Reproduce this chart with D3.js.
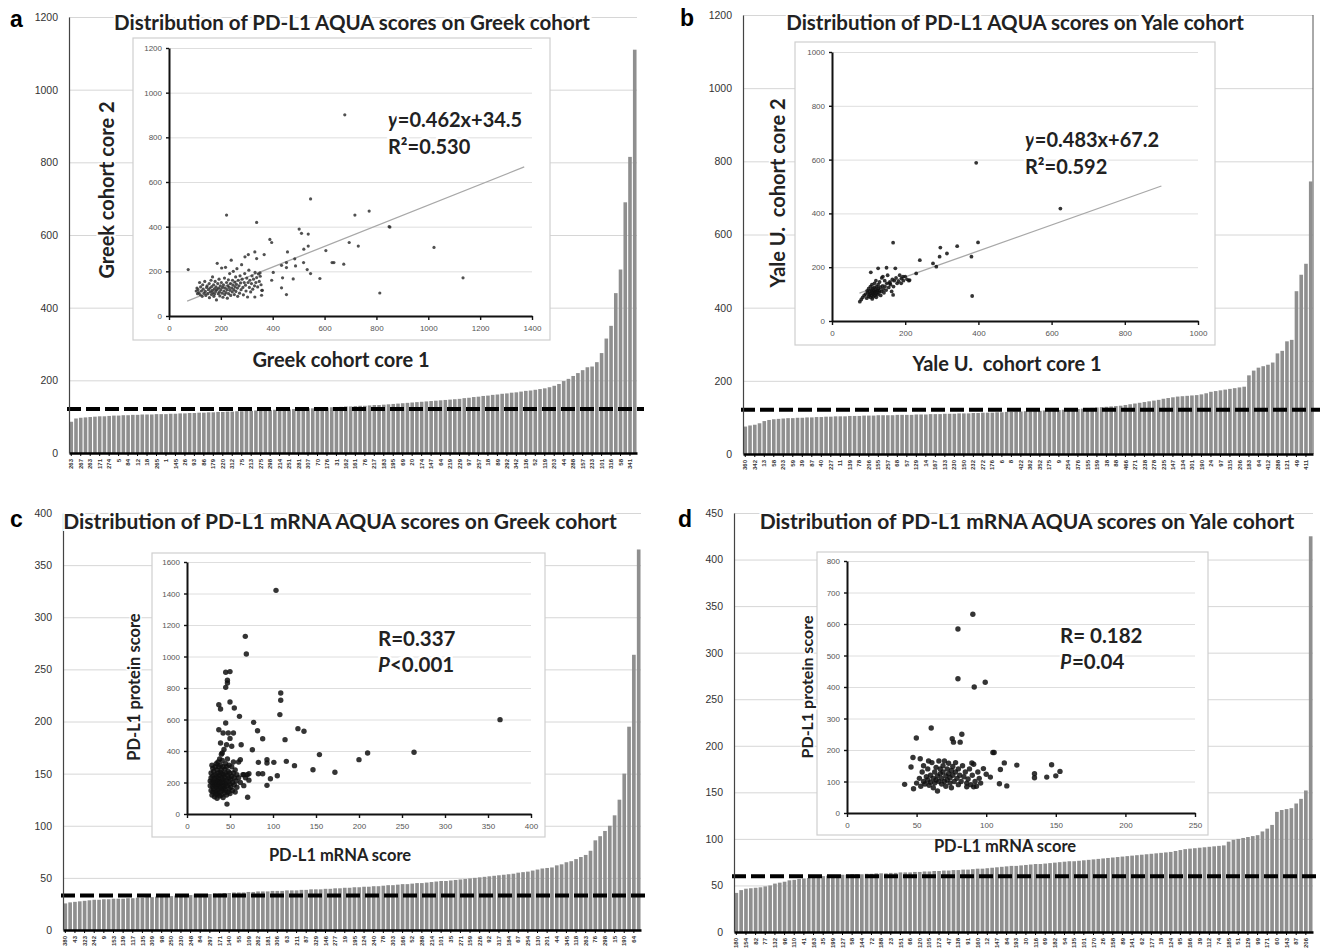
<!DOCTYPE html>
<html>
<head>
<meta charset="utf-8">
<script src="https://d3js.org/d3.v7.min.js"></script>
<style>
    body { margin: 0; background: #fff; }
    svg { display: block; font-family: Lato, "Open Sans", sans-serif; }
    text { white-space: pre; }
    .grid line { stroke: #d6d6d6; }
    .grid path { display: none; }
    .igrid line { stroke: #dedede; }
    .igrid path { display: none; }
</style>
</head>
<body>
<script>
//wrap everything in an anonymous function so nothing is global
(function () {

    //sorted AQUA scores shown as bars (one array per panel)
    var barsA = [86, 95, 97, 98, 99, 100, 101, 101, 102, 103,
        103, 104, 104, 105, 105, 106, 106, 106, 107, 107,
        107, 108, 108, 109, 109, 110, 110, 111, 111, 112,
        112, 113, 113, 114, 114, 115, 115, 116, 116, 117,
        117, 118, 118, 119, 119, 120, 120, 121, 121, 122,
        123, 123, 124, 124, 125, 126, 126, 127, 128, 128,
        129, 130, 130, 131, 132, 132, 133, 134, 135, 136,
        137, 138, 139, 140, 141, 142, 143, 144, 145, 146,
        147, 148, 149, 151, 152, 154, 155, 157, 158, 160,
        161, 163, 164, 166, 167, 169, 171, 172, 174, 176,
        178, 181, 185, 190, 198, 204, 212, 220, 228, 236,
        238, 250, 275, 315, 350, 440, 505, 690, 815, 1110];
    var barsB = [75, 78, 80, 84, 90, 93, 95, 96, 97, 98,
        98, 99, 99, 100, 100, 101, 101, 102, 102, 103,
        103, 103, 104, 104, 104, 105, 105, 105, 106, 106,
        106, 106, 107, 107, 107, 107, 108, 108, 108, 109,
        109, 109, 110, 110, 110, 111, 111, 111, 112, 112,
        113, 113, 113, 114, 114, 115, 115, 116, 116, 117,
        117, 118, 118, 119, 119, 120, 120, 121, 122, 122,
        123, 124, 125, 126, 127, 128, 129, 130, 131, 132,
        134, 136, 138, 140, 142, 144, 146, 148, 151, 153,
        155, 157, 158, 159, 160, 161, 163, 166, 170, 172,
        174, 176, 178, 180, 182, 184, 215, 228, 236, 240,
        244, 250, 275, 282, 308, 312, 445, 490, 520, 745];
    var barsC = [25.5, 26.5, 27, 27.5, 28, 28.5, 29, 29, 29.5, 29.5,
        30, 30, 30, 30.5, 30.5, 31, 31, 31.5, 31.5, 32,
        32, 32.5, 32.5, 33, 33, 33.5, 33.5, 34, 34, 34.5,
        34.5, 35, 35, 35.5, 35.5, 36, 36, 36, 36.5, 36.5,
        37, 37, 37, 37.5, 37.5, 37.5, 38, 38, 38, 38.5,
        38.5, 39, 39, 39, 39.5, 39.5, 40, 40, 40.5, 40.5,
        41, 41, 41.5, 41.5, 42, 42, 42.5, 43, 43, 43.5,
        44, 44, 44.5, 45, 45, 45.5, 46, 46.5, 47, 47,
        47.5, 48, 48.5, 49, 49.5, 50, 50.5, 51, 51.5, 52,
        52.5, 53, 53.5, 54, 55, 55.5, 56, 57, 58, 59,
        59.5, 60, 62, 63, 65, 66, 68, 70, 72, 76,
        86, 90, 95, 100, 110, 125, 150, 195, 264, 365];
    var barsD = [42, 45, 46.5, 47, 47.5, 48, 49, 50, 52, 53,
        54, 55.5, 56, 57, 57.5, 58, 58.5, 59, 60, 60.5,
        61, 61, 61.5, 61.5, 62, 62, 62, 62.5, 62.5, 63,
        63, 63, 63.5, 63.5, 64, 64, 64, 64.5, 64.5, 65,
        65, 65.5, 65.5, 66, 66, 66.5, 66.5, 67, 67, 67.5,
        68, 68, 68.5, 69, 69.5, 70, 70.5, 71, 71, 71.5,
        72, 72.5, 73, 73, 73.5, 74, 74.5, 75, 75.5, 76,
        76, 76.5, 77, 77.5, 78, 78.5, 79, 79.5, 80, 80.5,
        81, 81.5, 82, 82.5, 83, 83.5, 84, 84.5, 85, 85.5,
        86, 87, 88, 89, 89.5, 90, 90.5, 91, 91.5, 92,
        92.5, 93, 97, 99, 100, 101, 102, 103, 104, 108,
        111, 115, 129, 131, 132, 133, 138, 143, 152, 425];

    //case ids printed under every second bar
    var labelsA = ["263", "267", "263", "171", "274", "5", "84", "12", "18", "265",
        "1", "145", "26", "93", "86", "179", "220", "312", "75", "213",
        "275", "298", "214", "251", "281", "307", "70", "176", "31", "162",
        "161", "76", "217", "183", "195", "69", "20", "174", "147", "64",
        "219", "229", "97", "257", "18", "89", "292", "342", "136", "52",
        "119", "203", "44", "288", "157", "233", "101", "316", "58", "341"];
    var labelsB = ["360", "342", "13", "58", "203", "59", "39", "87", "40", "227",
        "11", "139", "78", "206", "155", "257", "68", "57", "129", "14",
        "167", "133", "230", "150", "232", "272", "176", "6", "8", "422",
        "362", "352", "175", "9", "254", "376", "155", "159", "38", "88",
        "466", "271", "238", "278", "235", "147", "134", "301", "190", "24",
        "97", "315", "206", "183", "64", "412", "288", "121", "49", "411"];
    var labelsC = ["380", "43", "323", "242", "9", "153", "139", "117", "135", "309",
        "98", "250", "230", "248", "84", "297", "171", "140", "55", "109",
        "262", "181", "306", "63", "211", "87", "329", "146", "277", "19",
        "195", "124", "240", "78", "303", "166", "52", "288", "214", "101",
        "35", "271", "159", "226", "92", "317", "184", "67", "254", "130",
        "201", "44", "345", "118", "263", "76", "298", "15", "190", "64"];
    var labelsD = ["180", "154", "82", "77", "132", "96", "110", "41", "163", "35",
        "199", "127", "58", "144", "72", "188", "23", "151", "66", "120",
        "105", "173", "47", "138", "91", "160", "12", "147", "84", "193",
        "30", "116", "69", "182", "54", "135", "101", "170", "26", "158",
        "89", "141", "62", "177", "18", "124", "95", "166", "39", "112",
        "74", "185", "51", "129", "99", "171", "60", "143", "87", "206"];

    //cut-off values drawn as dashed lines
    var cutA = 121, cutB = 121, cutC = 33, cutD = 60;

    //inset scatter points [x, y]
    var pointsA = [[105, 112], [108, 125], [110, 100], [112, 118], [115, 105], [118, 150], [120, 96], [122, 130],
        [125, 112], [128, 88], [130, 140], [132, 120], [135, 102], [138, 155], [140, 110], [142, 92], [145, 128],
        [147, 135], [150, 100], [152, 118], [155, 145], [156, 82], [158, 125], [160, 108], [162, 160], [164, 96],
        [165, 132], [167, 115], [168, 175], [170, 104], [172, 140], [173, 88], [175, 122], [176, 98], [178, 155],
        [180, 110], [181, 130], [183, 72], [185, 118], [186, 236], [188, 145], [190, 100], [191, 125], [193, 165],
        [195, 108], [196, 90], [198, 135], [200, 118], [202, 150], [203, 215], [205, 102], [207, 128], [208, 84],
        [210, 140], [212, 112], [214, 170], [215, 96], [217, 125], [218, 218], [220, 105], [222, 150], [224, 118],
        [225, 80], [227, 135], [229, 162], [230, 100], [232, 128], [234, 190], [235, 115], [237, 145], [238, 92],
        [240, 250], [242, 125], [244, 108], [245, 160], [247, 138], [248, 200], [250, 118], [252, 96], [254, 152],
        [255, 130], [257, 175], [258, 110], [260, 142], [262, 212], [264, 125], [265, 88], [267, 160], [270, 135],
        [272, 102], [274, 180], [276, 148], [278, 118], [280, 230], [282, 165], [285, 128], [287, 95], [290, 150],
        [292, 190], [295, 138], [297, 112], [300, 170], [303, 85], [305, 150], [308, 205], [310, 128], [312, 160],
        [315, 108], [318, 145], [320, 180], [323, 120], [326, 165], [330, 135], [332, 195], [335, 150], [338, 172],
        [342, 130], [345, 188], [348, 155], [352, 178], [355, 140], [358, 115],
        [74, 208], [222, 452], [338, 419], [546, 524], [678, 901], [717, 452], [772, 470], [852, 398], [849, 400],
        [1022, 307], [1134, 171], [813, 103], [502, 389], [511, 370], [537, 367], [537, 313], [520, 299], [485, 256],
        [457, 287], [389, 343], [396, 329], [367, 275], [331, 287], [306, 275], [293, 265], [338, 257], [519, 239],
        [453, 239], [434, 227], [488, 224], [453, 217], [533, 208], [546, 190], [479, 166], [582, 168], [438, 171],
        [434, 126], [453, 96], [396, 160], [402, 195], [605, 293], [629, 239], [636, 239], [674, 232], [695, 329],
        [730, 313], [357, 93], [360, 115], [331, 85], [351, 193]];
    var pointsB = [[84, 88], [88, 95], [92, 100], [95, 85], [96, 112], [98, 105], [100, 92], [100, 120], [102, 98],
        [103, 110], [105, 128], [105, 88], [106, 102], [107, 115], [108, 95], [109, 135], [110, 108], [110, 82],
        [111, 120], [112, 100], [113, 90], [114, 112], [115, 125], [115, 105], [116, 140], [117, 95], [118, 110],
        [119, 118], [120, 100], [120, 150], [121, 88], [122, 128], [123, 108], [124, 115], [125, 98], [126, 135],
        [127, 120], [128, 105], [130, 145], [130, 112], [132, 125], [133, 95], [135, 110], [136, 160], [138, 130],
        [140, 118], [142, 105], [144, 150], [145, 128], [148, 115], [150, 140], [152, 170], [155, 125], [158, 145],
        [160, 135], [163, 110], [165, 155], [168, 128], [170, 150], [175, 160], [178, 140], [182, 148], [185, 170],
        [190, 158], [195, 150], [200, 165], [205, 155], [210, 150],
        [394, 588], [624, 418], [167, 291], [399, 292], [342, 278], [296, 273], [314, 251], [294, 239], [240, 226],
        [276, 214], [285, 202], [381, 239], [230, 177], [383, 93], [212, 152], [194, 165], [173, 196], [149, 198],
        [126, 196], [106, 181], [167, 97], [189, 140], [158, 140], [139, 165], [76, 72], [80, 80]];
    var pointsC = [[27, 210], [27, 180], [28, 230], [28, 150], [28, 260], [29, 200], [29, 120], [29, 310], [30, 175],
        [30, 240], [30, 140], [30, 290], [31, 205], [31, 160], [31, 270], [32, 110], [32, 225], [32, 185], [33, 300],
        [33, 140], [33, 250], [33, 195], [34, 170], [34, 320], [34, 215], [34, 125], [35, 240], [35, 180], [35, 150],
        [35, 280], [35, 100], [36, 210], [36, 330], [36, 130], [36, 260], [37, 190], [37, 160], [37, 225], [37, 300],
        [38, 115], [38, 245], [38, 175], [38, 350], [38, 205], [39, 140], [39, 265], [39, 195], [39, 310], [40, 230],
        [40, 165], [40, 120], [40, 280], [40, 380], [41, 200], [41, 150], [41, 255], [41, 340], [42, 180], [42, 220],
        [42, 105], [42, 300], [43, 250], [43, 160], [43, 410], [43, 200], [44, 135], [44, 285], [44, 230], [44, 175],
        [45, 320], [45, 190], [45, 150], [45, 260], [46, 215], [46, 120], [46, 440], [46, 300], [47, 180], [47, 245],
        [47, 350], [48, 140], [48, 270], [48, 205], [49, 160], [49, 310], [49, 230], [50, 190], [50, 480], [50, 260],
        [50, 130], [51, 220], [51, 170], [52, 300], [52, 240], [53, 150], [53, 200], [54, 330], [54, 260], [55, 185],
        [55, 230], [56, 140], [56, 280], [57, 210], [58, 250], [58, 170], [60, 230], [60, 330], [62, 200], [63, 440],
        [65, 250], [66, 180], [68, 230], [70, 250], [72, 215],
        [103.5, 1420], [67.8, 1128], [69, 1016], [45, 900], [50, 904], [47, 849], [47, 832], [45, 804], [37, 694],
        [39, 667], [50, 711], [55, 673], [61, 620], [45, 578], [109, 768], [109, 722], [108, 631], [77.5, 582],
        [82, 529], [88, 478], [129, 542], [136, 525], [114, 472], [364, 599], [264, 392], [210, 387], [200, 345],
        [154, 377], [172, 265], [146.5, 281], [125, 307], [115.5, 334], [101, 328], [93, 345], [93, 324], [83, 328],
        [76, 408], [105, 243], [97, 224], [93, 182], [83, 256], [88, 256], [70.5, 106], [46.5, 63], [66, 250],
        [72, 256], [62, 345], [52, 430], [54, 514], [48, 514], [42, 514], [39, 451], [41, 387], [37, 535]];
    var pointsD = [[50, 95], [52, 110], [53, 85], [54, 130], [55, 100], [55, 150], [56, 92], [57, 115], [58, 105],
        [58, 140], [59, 88], [60, 120], [60, 98], [61, 160], [62, 110], [62, 80], [63, 130], [63, 95], [64, 145],
        [64, 105], [65, 118], [65, 70], [66, 165], [66, 100], [67, 125], [67, 140], [68, 92], [68, 110], [69, 150],
        [69, 130], [70, 100], [70, 165], [71, 118], [71, 85], [72, 140], [72, 105], [73, 125], [73, 158], [74, 95],
        [74, 112], [75, 135], [75, 80], [76, 148], [76, 120], [77, 100], [78, 130], [78, 160], [79, 110], [80, 90],
        [80, 140], [81, 120], [82, 100], [83, 150], [84, 115], [85, 130], [86, 95], [87, 108], [88, 140], [89, 90],
        [90, 120], [91, 155], [92, 100], [93, 85], [94, 130], [95, 110], [96, 95],
        [90.4, 631], [79.7, 584], [79.7, 426], [91.4, 400], [99.3, 415], [60.5, 270], [49.8, 238], [75.6, 236],
        [76.5, 225], [82.5, 250], [81.3, 225], [104.8, 192], [105.7, 192], [41.4, 91], [47.8, 77], [47.4, 176],
        [46, 146], [52.6, 172], [58.6, 165], [109.5, 93], [114.8, 86], [113, 159], [122, 152], [110.2, 138],
        [98, 141], [89.7, 159], [134.7, 125], [134.7, 112], [143.5, 114], [147, 153], [150, 118], [153, 132],
        [100, 123], [103, 114], [86, 83], [91, 83]];

    //regression lines for the two core-vs-core insets [slope, intercept, xStart, xEnd]
    var fitA = [0.462, 34.5, 70, 1370];
    var fitB = [0.483, 67.2, 75, 900];

    //plain integer tick labels, no thousands separator
    var fmt = d3.format("d");

    //begin script
    drawFigure();

    function drawFigure() {
        var svg = d3.select("body")
            .append("svg")
            .attr("width", 1324)
            .attr("height", 952);

        //panel a
        drawPanel(svg, {
            letter: "a", letterX: 10, letterY: 27,
            title: "Distribution of PD-L1 AQUA scores on Greek cohort", titleX: 352, titleY: 30, titleSize: 20.5,
            left: 69, right: 637, top: 17, bottom: 453, yMax: 1200, yStep: 200,
            bars: barsA, labels: labelsA, cut: cutA, frame: false
        });
        drawInset(svg, {
            box: [133, 38, 417, 302], x0: 169, x1: 532, y0: 316, y1: 48,
            xMax: 1400, xStep: 200, yMax: 1200, yStep: 200,
            points: pointsA, r: 1.6, color: "#333",
            fit: fitA,
            xTitle: "Greek cohort core 1", xTitleX: 341, xTitleY: 367, xTitleSize: 20,
            yTitle: "Greek cohort core 2", yTitleX: 114, yTitleY: 190, yTitleSize: 20,
            stats: [["y", "=0.462x+34.5"], ["", "R\u00b2=0.530"]], statX: 388, statY: 127, statSize: 20, statGap: 27
        });

        //panel b
        drawPanel(svg, {
            letter: "b", letterX: 680, letterY: 26,
            title: "Distribution of PD-L1 AQUA scores on Yale cohort", titleX: 1015, titleY: 30, titleSize: 20.5,
            left: 743, right: 1313, top: 15, bottom: 454, yMax: 1200, yStep: 200,
            bars: barsB, labels: labelsB, cut: cutB, frame: true
        });
        drawInset(svg, {
            box: [795, 42, 420, 303], x0: 832, x1: 1198, y0: 321, y1: 52,
            xMax: 1000, xStep: 200, yMax: 1000, yStep: 200,
            points: pointsB, r: 1.9, color: "#111",
            fit: fitB,
            xTitle: "Yale U.  cohort core 1", xTitleX: 1007, xTitleY: 371, xTitleSize: 20,
            yTitle: "Yale U.  cohort core 2", yTitleX: 785, yTitleY: 193, yTitleSize: 20,
            stats: [["y", "=0.483x+67.2"], ["", "R\u00b2=0.592"]], statX: 1025, statY: 147, statSize: 20, statGap: 27
        });

        //panel c
        drawPanel(svg, {
            letter: "c", letterX: 10, letterY: 527,
            title: "Distribution of PD-L1 mRNA AQUA scores on Greek cohort", titleX: 340, titleY: 529, titleSize: 21,
            left: 63, right: 641, top: 513, bottom: 930, yMax: 400, yStep: 50,
            bars: barsC, labels: labelsC, cut: cutC, frame: false
        });
        drawInset(svg, {
            box: [152, 553, 393, 284], x0: 187, x1: 531, y0: 814, y1: 562,
            xMax: 400, xStep: 50, yMax: 1600, yStep: 200,
            points: pointsC, r: 2.7, color: "#111",
            fit: null,
            xTitle: "PD-L1 mRNA score", xTitleX: 340, xTitleY: 861, xTitleSize: 16.5,
            yTitle: "PD-L1 protein score", yTitleX: 140, yTitleY: 687, yTitleSize: 16.5,
            stats: [["", "R=0.337"], ["P", "<0.001"]], statX: 378, statY: 646, statSize: 20.5, statGap: 26
        });

        //panel d
        drawPanel(svg, {
            letter: "d", letterX: 678, letterY: 527,
            title: "Distribution of PD-L1 mRNA AQUA scores on Yale cohort", titleX: 1027, titleY: 529, titleSize: 21,
            left: 734, right: 1313, top: 513, bottom: 932, yMax: 450, yStep: 50,
            bars: barsD, labels: labelsD, cut: cutD, frame: false
        });
        drawInset(svg, {
            box: [817, 552, 391, 283], x0: 847, x1: 1195, y0: 813, y1: 561,
            xMax: 250, xStep: 50, yMax: 800, yStep: 100,
            points: pointsD, r: 2.7, color: "#111",
            fit: null,
            xTitle: "PD-L1 mRNA score", xTitleX: 1005, xTitleY: 852, xTitleSize: 16.5,
            yTitle: "PD-L1 protein score", yTitleX: 813, yTitleY: 687, yTitleSize: 16,
            stats: [["", "R= 0.182"], ["P", "=0.04"]], statX: 1060, statY: 643, statSize: 20.5, statGap: 26
        });
    }

    //sorted bar chart with cut-off line
    function drawPanel(svg, p) {
        var width = p.right - p.left;

        var y = d3.scaleLinear()
            .domain([0, p.yMax])
            .range([p.bottom, p.top]);

        var x = d3.scaleBand()
            .domain(d3.range(p.bars.length))
            .range([p.left, p.right])
            .paddingInner(0.24)
            .paddingOuter(0.1);

        var yTicks = d3.range(0, p.yMax + p.yStep / 2, p.yStep);

        //horizontal gridlines
        svg.append("g")
            .attr("class", "grid")
            .attr("transform", "translate(" + p.left + ",0)")
            .call(d3.axisLeft(y).tickValues(yTicks.slice(1)).tickSize(-width).tickFormat(""));

        //right frame line
        if (p.frame) {
            svg.append("line")
                .attr("x1", p.right).attr("x2", p.right)
                .attr("y1", p.top).attr("y2", p.bottom)
                .attr("stroke", "#555")
                .attr("stroke-width", 1);
        }

        //bars
        svg.append("g")
            .selectAll(".bar")
            .data(p.bars)
            .enter()
            .append("rect")
            .attr("class", "bar")
            .attr("x", function (d, i) { return x(i); })
            .attr("width", x.bandwidth())
            .attr("y", function (d) { return y(d); })
            .attr("height", function (d) { return y(0) - y(d); })
            .attr("fill", "#8f8f8f");

        //cut-off dashed line
        svg.append("line")
            .attr("x1", p.left - 2)
            .attr("x2", p.right + 7)
            .attr("y1", y(p.cut))
            .attr("y2", y(p.cut))
            .attr("stroke", "#000")
            .attr("stroke-width", 4)
            .attr("stroke-dasharray", "14,5");

        //baseline with rotated case ids
        var xAxis = svg.append("g")
            .attr("transform", "translate(0," + p.bottom + ")")
            .call(d3.axisBottom(x)
                .tickValues(x.domain().filter(function (i) { return i % 2 === 0; }))
                .tickFormat(function (i) { return p.labels[i / 2]; })
                .tickSize(3)
                .tickSizeOuter(0));
        xAxis.select(".domain").attr("stroke", "#000").attr("stroke-width", 2.5);
        xAxis.selectAll(".tick line").attr("stroke", "#000");
        xAxis.selectAll(".tick text")
            .attr("y", 0)
            .attr("x", -6)
            .attr("dy", "0.35em")
            .attr("transform", "rotate(-90)")
            .style("text-anchor", "end")
            .style("font-size", "6px")
            .style("font-weight", "bold")
            .attr("fill", "#333");

        //vertical axis
        var yAxis = svg.append("g")
            .attr("transform", "translate(" + p.left + ",0)")
            .call(d3.axisLeft(y).tickValues(yTicks).tickFormat(fmt).tickSize(0).tickPadding(11));
        yAxis.select(".domain").attr("stroke", "#444").attr("stroke-width", 1.2);
        yAxis.selectAll("text")
            .style("font-size", "10.5px")
            .attr("fill", "#333");

        //panel letter
        svg.append("text")
            .attr("x", p.letterX)
            .attr("y", p.letterY)
            .style("font-family", "'Liberation Sans', Arial, sans-serif")
            .style("font-weight", "bold")
            .style("font-size", "23px")
            .text(p.letter);

        //panel title
        svg.append("text")
            .attr("x", p.titleX)
            .attr("y", p.titleY)
            .attr("text-anchor", "middle")
            .style("font-weight", "bold")
            .style("font-size", p.titleSize + "px")
            .attr("fill", "#222")
            .attr("stroke", "#fff")
            .attr("stroke-width", 4)
            .style("paint-order", "stroke")
            .text(p.title);
    }

    //inset scatter plot
    function drawInset(svg, s) {
        //white box
        svg.append("rect")
            .attr("x", s.box[0])
            .attr("y", s.box[1])
            .attr("width", s.box[2])
            .attr("height", s.box[3])
            .attr("fill", "#fff")
            .attr("stroke", "#cfcfcf")
            .attr("stroke-width", 1.2);

        var ix = d3.scaleLinear().domain([0, s.xMax]).range([s.x0, s.x1]);
        var iy = d3.scaleLinear().domain([0, s.yMax]).range([s.y0, s.y1]);
        var xTicks = d3.range(0, s.xMax + s.xStep / 2, s.xStep);
        var yTicks = d3.range(0, s.yMax + s.yStep / 2, s.yStep);

        //gridlines
        svg.append("g")
            .attr("class", "igrid")
            .attr("transform", "translate(" + s.x0 + ",0)")
            .call(d3.axisLeft(iy).tickValues(yTicks.slice(1)).tickSize(-(s.x1 - s.x0)).tickFormat(""));

        //statistics text (white halo cuts the gridlines like the original)
        s.stats.forEach(function (row, k) {
            var t = svg.append("text")
                .attr("x", s.statX)
                .attr("y", s.statY + k * s.statGap)
                .style("font-weight", "bold")
                .style("font-size", s.statSize + "px")
                .attr("fill", "#222")
                .attr("stroke", "#fff")
                .attr("stroke-width", 5)
                .style("paint-order", "stroke");
            if (row[0]) {
                t.append("tspan").style("font-style", "italic").text(row[0]);
            }
            t.append("tspan").text(row[1]);
        });

        //regression line
        if (s.fit) {
            svg.append("line")
                .attr("x1", ix(s.fit[2]))
                .attr("y1", iy(s.fit[0] * s.fit[2] + s.fit[1]))
                .attr("x2", ix(s.fit[3]))
                .attr("y2", iy(s.fit[0] * s.fit[3] + s.fit[1]))
                .attr("stroke", "#a8a8a8")
                .attr("stroke-width", 1.3);
        }

        //points
        svg.append("g")
            .selectAll("circle")
            .data(s.points)
            .enter()
            .append("circle")
            .attr("cx", function (d) { return ix(d[0]); })
            .attr("cy", function (d) { return iy(d[1]); })
            .attr("r", s.r)
            .attr("fill", s.color)
            .attr("fill-opacity", 0.85);

        //axes
        var xAxis = svg.append("g")
            .attr("transform", "translate(0," + s.y0 + ")")
            .call(d3.axisBottom(ix).tickValues(xTicks).tickFormat(fmt).tickSize(4).tickSizeOuter(0).tickPadding(5));
        var yAxis = svg.append("g")
            .attr("transform", "translate(" + s.x0 + ",0)")
            .call(d3.axisLeft(iy).tickValues(yTicks).tickFormat(fmt).tickSize(3).tickSizeOuter(0).tickPadding(4));
        [xAxis, yAxis].forEach(function (a) {
            a.select(".domain").attr("stroke", "#111").attr("stroke-width", 2);
            a.selectAll(".tick line").attr("stroke", "#111").attr("stroke-width", 1.4);
            a.selectAll("text").style("font-size", "8px").attr("fill", "#555");
        });

        //axis titles
        svg.append("text")
            .attr("x", s.xTitleX)
            .attr("y", s.xTitleY)
            .attr("text-anchor", "middle")
            .style("font-weight", "bold")
            .style("font-size", s.xTitleSize + "px")
            .attr("fill", "#222")
            .text(s.xTitle);
        svg.append("text")
            .attr("transform", "translate(" + s.yTitleX + "," + s.yTitleY + ") rotate(-90)")
            .attr("text-anchor", "middle")
            .style("font-weight", "bold")
            .style("font-size", s.yTitleSize + "px")
            .attr("fill", "#222")
            .attr("stroke", "#fff")
            .attr("stroke-width", 3)
            .style("paint-order", "stroke")
            .text(s.yTitle);
    }

})();
</script>
</body>
</html>
